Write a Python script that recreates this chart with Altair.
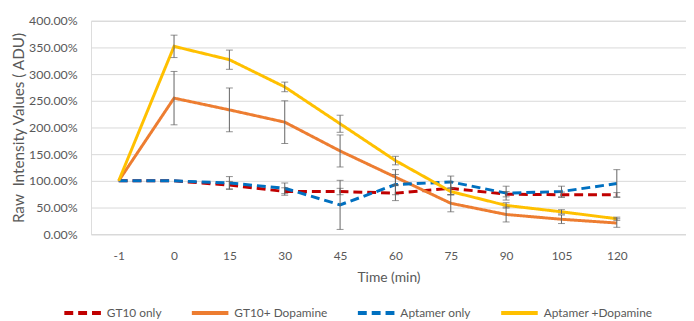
import altair as alt
import pandas as pd

time_labels = ["-1", "0", "15", "30", "45", "60", "75", "90", "105", "120"]
series_names = ["GT10 only", "GT10+ Dopamine", "Aptamer only", "Aptamer +Dopamine"]
series_colors = ["#C00000", "#ED7D31", "#0070C0", "#FFC000"]

gt10_only = [100, 100, 92, 80, 80, 77, 86, 75, 74, 74]
gt10_only_err = [0, 0, 7, 7, 6, 14, 12, 5, 5, 4]
gt10_dopa = [100, 255, 233, 210, 156, 107, 58, 37, 28, 21]
gt10_dopa_err = [0, 50, 41, 40, 30, 14, 16, 14, 8, 8]
apt_only = [100, 100, 96, 86, 55, 93, 98, 77, 80, 95]
apt_only_err = [0, 0, 12, 10, 46, 19, 11, 13, 10, 26]
apt_dopa = [100, 352, 327, 276, 207, 138, 80, 54, 42, 29]
apt_dopa_err = [0, 21, 18, 9, 16, 8, 6, 5, 4, 3]

y_ticks = [0, 50, 100, 150, 200, 250, 300, 350, 400]

values = [gt10_only, gt10_dopa, apt_only, apt_dopa]
errors = [gt10_only_err, gt10_dopa_err, apt_only_err, apt_dopa_err]

rows = []
for name, vals, errs in zip(series_names, values, errors):
    for i, (v, e) in enumerate(zip(vals, errs)):
        rows.append({"series": name, "idx": i, "time": time_labels[i],
                     "val": v, "lo": v - e, "hi": v + e, "err": e})
df = pd.DataFrame(rows)

FONT = "Lato"
GREY = "#595959"

label_expr = "[" + ",".join("'" + t + "'" for t in time_labels) + "][datum.value]"

x_enc = alt.X("idx:Q",
              scale=alt.Scale(domain=[-0.5, 10.25], nice=False, zero=False),
              axis=alt.Axis(values=list(range(len(time_labels))), labelExpr=label_expr,
                            title="Time (min)", grid=False, ticks=False,
                            domainColor="#D9D9D9", domainWidth=1,
                            labelPadding=17, titlePadding=9,
                            labelFontSize=12, titleFontSize=14,
                            labelColor=GREY, titleColor=GREY,
                            labelFont=FONT, titleFont=FONT, titleFontWeight="normal"))
y_scale = alt.Scale(domain=[0, 400], nice=False)
y_axis = alt.Axis(values=y_ticks, labelExpr="format(datum.value/100, '.2%')",
                  title="Raw \u00a0Intensity Values ( ADU)", grid=True, gridColor="#D9D9D9",
                  gridWidth=1, domain=False, ticks=False, labelPadding=14,
                  titlePadding=2, labelFontSize=12.5, titleFontSize=15.5,
                  labelColor=GREY, titleColor=GREY, labelFont=FONT, titleFont=FONT,
                  titleFontWeight="normal")

color_enc = alt.Color("series:N", scale=alt.Scale(domain=series_names, range=series_colors),
                      sort=series_names,
                      legend=alt.Legend(title=None, orient="none", legendX=-29, legendY=275,
                                        direction="horizontal", columns=4,
                                        symbolType="stroke", symbolStrokeWidth=4,
                                        symbolSize=1369, labelFontSize=12, labelFont=FONT,
                                        labelColor=GREY, columnPadding=22, labelOffset=4))
dash_enc = alt.StrokeDash("series:N",
                          scale=alt.Scale(domain=series_names,
                                          range=[[9, 5], [1, 0], [9, 5], [1, 0]]),
                          sort=series_names, legend=None)

layers = []
for name in series_names:
    sub = df[df["series"] == name]
    line = alt.Chart(sub).mark_line(strokeWidth=3).encode(
        x=x_enc,
        y=alt.Y("val:Q", scale=y_scale, axis=y_axis),
        color=color_enc,
        strokeDash=dash_enc,
    )
    layers.append(line)

errdf = df[df["err"] > 0]
rule = alt.Chart(errdf).mark_rule(color="#636363", strokeWidth=1).encode(
    x=x_enc, y=alt.Y("lo:Q", scale=y_scale, axis=y_axis), y2="hi:Q")
cap_lo = alt.Chart(errdf).mark_tick(color="#636363", orient="horizontal", size=7, thickness=1).encode(
    x=x_enc, y=alt.Y("lo:Q", scale=y_scale, axis=y_axis))
cap_hi = alt.Chart(errdf).mark_tick(color="#636363", orient="horizontal", size=7, thickness=1).encode(
    x=x_enc, y=alt.Y("hi:Q", scale=y_scale, axis=y_axis))

chart = alt.layer(*layers, rule, cap_lo, cap_hi).properties(
    width=602, height=216,
    autosize=alt.AutoSizeParams(type="none"),
    padding={"left": 84, "top": 11, "right": 0, "bottom": 94},
).configure_view(stroke=None).configure(background="white")

chart.save("out.html", embed_options={"renderer": "svg", "actions": False})
